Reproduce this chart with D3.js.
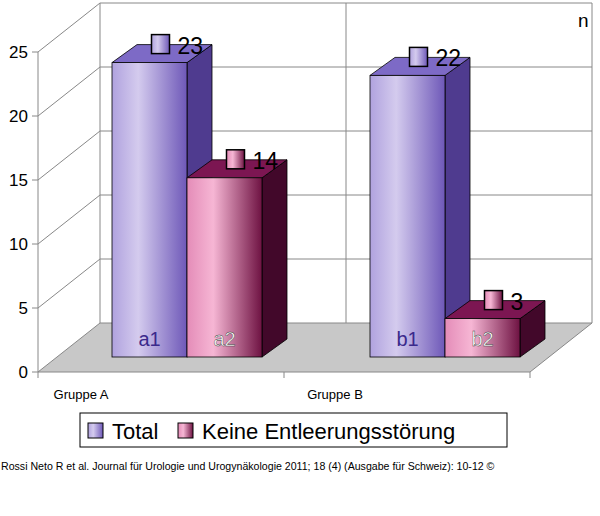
<!DOCTYPE html>
<html><head><meta charset="utf-8">
<script src="https://cdn.jsdelivr.net/npm/d3@7"></script>
<style>body{margin:0;background:#fff}svg{display:block;font-family:"Liberation Sans",Arial,sans-serif}</style>
</head><body><svg id="c" width="600" height="516"></svg>
<script>
// data
const groups = ["Gruppe A", "Gruppe B"];
const seriesNames = ["Total", "Keine Entleerungsstörung"];
const barLabels = [["a1", "a2"], ["b1", "b2"]];
const totalValues = [23, 22];
const keineValues = [14, 3];
const yTicks = [0, 5, 10, 15, 20, 25];

const svg = d3.select("#c");
const defs = svg.append("defs");

// 3d helpers
const depthX = 62, depthY = -49;
const y = d3.scaleLinear().domain([0, 25]).range([372, 52]);
const x = d3.scaleBand().domain(groups).range([38, 530]);
const barY = d3.scaleLinear().domain([0, 25]).range([357, 37]);
const bx = d3.scaleBand().domain([0, 1]).range([0, 150]);
const barOffset = {"Gruppe A": 74, "Gruppe B": 86};
const bdx = 25, bdy = -18;

const styles = [
    {light: "#d4cbee", mid: "#b0a2de", dark: "#6e58b8", top: "#7d6ac6", side: "#4f3b8f", text: "#3b2a8c"},
    {light: "#f6b6d4", mid: "#e48cb8", dark: "#6e1242", top: "#7c1652", side: "#42082a", text: "#fff"}
];
styles.forEach((s, i) => {
    const g = defs.append("linearGradient").attr("id", "g" + i);
    g.append("stop").attr("offset", "0").attr("stop-color", s.mid);
    g.append("stop").attr("offset", "0.35").attr("stop-color", s.light);
    g.append("stop").attr("offset", "1").attr("stop-color", s.dark);
});

const line = d3.line();
const grid = svg.append("g").attr("stroke", "#888").attr("fill", "none").attr("stroke-width", 1);

// floor
svg.insert("path", "g").attr("fill", "#c8c8c8")
    .attr("d", line([[38, 372], [38 + depthX, 372 + depthY], [530 + depthX, 372 + depthY], [530, 372]]) + "Z");

// walls and gridlines
yTicks.forEach(t => {
    grid.append("path").attr("d", line([[38, y(t)], [38 + depthX, y(t) + depthY], [530 + depthX, y(t) + depthY]]));
    grid.append("path").attr("d", line([[32, y(t)], [38, y(t)]]));
});
grid.append("path").attr("d", line([[38, y(0)], [38, y(25)]]));
grid.append("path").attr("d", line([[38 + depthX, y(0) + depthY], [38 + depthX, y(25) + depthY]]));
grid.append("path").attr("d", line([[530 + depthX, y(0) + depthY], [530 + depthX, y(25) + depthY]]));
grid.append("path").attr("d", line([[x("Gruppe B") + depthX, y(0) + depthY], [x("Gruppe B") + depthX, y(25) + depthY]]));
grid.append("path").attr("d", line([[38, y(0)], [530, y(0)], [530 + depthX, y(0) + depthY]]));
[38, x("Gruppe B"), 530].forEach(v => grid.append("path").attr("d", line([[v, y(0)], [v, y(0) + 6]])));

svg.append("g").selectAll("text").data(yTicks).join("text")
    .attr("x", 28).attr("y", d => y(d) + 6).attr("text-anchor", "end")
    .attr("font-size", 17).text(d => d);
svg.append("text").attr("x", 578).attr("y", 27).attr("font-size", 19).text("n");

svg.append("g").selectAll("text").data(groups).join("text")
    .attr("x", d => x(d) + x.bandwidth() / 2 - 80 + (d === "Gruppe B" ? 8 : 0)).attr("y", 399)
    .attr("font-size", 13).attr("text-anchor", "middle").text(d => d);

// bars
const bars = [];
groups.forEach((gname, gi) => {
    [totalValues[gi], keineValues[gi]].forEach((v, si) => {
        bars.push({group: gname, s: si, v: v, label: barLabels[gi][si]});
    });
});
const bg = svg.append("g");
bars.forEach(b => {
    const st = styles[b.s];
    const x0 = x(b.group) + barOffset[b.group] + bx(b.s), x1 = x0 + bx.bandwidth();
    const y0 = barY(0), y1 = barY(b.v);
    bg.append("path").attr("fill", st.side).attr("stroke", "#000").attr("stroke-width", 0.8)
        .attr("d", line([[x1, y1], [x1 + bdx, y1 + bdy], [x1 + bdx, y0 + bdy], [x1, y0]]) + "Z");
    bg.append("path").attr("fill", st.top).attr("stroke", "#000").attr("stroke-width", 0.8)
        .attr("d", line([[x0, y1], [x0 + bdx, y1 + bdy], [x1 + bdx, y1 + bdy], [x1, y1]]) + "Z");
    bg.append("rect").attr("x", x0).attr("y", y1).attr("width", x1 - x0).attr("height", y0 - y1)
        .attr("fill", `url(#g${b.s})`).attr("stroke", "#000").attr("stroke-width", 0.8);
    bg.append("text").attr("x", (x0 + x1) / 2).attr("y", y0 - 11).attr("text-anchor", "middle")
        .attr("font-size", 20).attr("fill", st.text)
        .attr("stroke", b.s ? "#333" : "none").attr("stroke-width", 0.4).text(b.label);
    // value label with icon
    const lx = (x0 + x1) / 2 + 2, ly = y1 - 46;
    bg.append("rect").attr("x", lx).attr("y", ly + 18).attr("width", 18).attr("height", 19)
        .attr("fill", `url(#g${b.s})`).attr("stroke", "#000").attr("stroke-width", 1.5);
    bg.append("text").attr("x", lx + 26).attr("y", ly + 37).attr("font-size", 23).text(b.v);
});

// legend
const lg = svg.append("g");
lg.append("rect").attr("x", 80).attr("y", 413).attr("width", 427).attr("height", 34)
    .attr("fill", "#fff").attr("stroke", "#000");
const legX = [88, 178];
seriesNames.forEach((n, i) => {
    lg.append("rect").attr("x", legX[i]).attr("y", 423).attr("width", 15).attr("height", 15)
        .attr("fill", `url(#g${i})`).attr("stroke", "#000");
    lg.append("text").attr("x", legX[i] + 24).attr("y", 439).attr("font-size", 22).text(n);
});

svg.append("text").attr("x", 1).attr("y", 470).attr("font-size", 10.6)
    .text("Rossi Neto R et al. Journal für Urologie und Urogynäkologie 2011; 18 (4) (Ausgabe für Schweiz): 10-12 ©");
</script></body></html>
